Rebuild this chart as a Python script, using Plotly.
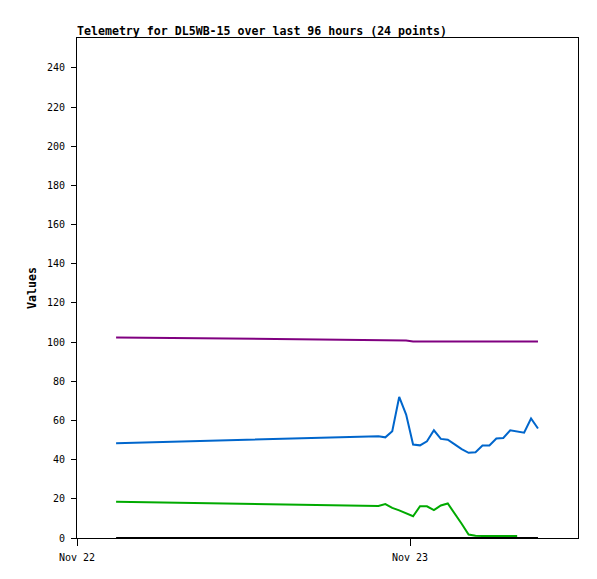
import plotly.graph_objects as go

# Timestamps of the samples
times = [
    "2023-11-22 02:49", "2023-11-22 21:43", "2023-11-22 22:13", "2023-11-22 22:43",
    "2023-11-22 23:13", "2023-11-22 23:43", "2023-11-23 00:13", "2023-11-23 00:43",
    "2023-11-23 01:13", "2023-11-23 01:43", "2023-11-23 02:13", "2023-11-23 02:43",
    "2023-11-23 03:13", "2023-11-23 03:43", "2023-11-23 04:13", "2023-11-23 04:43",
    "2023-11-23 05:13", "2023-11-23 05:43", "2023-11-23 06:13", "2023-11-23 06:43",
    "2023-11-23 07:13", "2023-11-23 07:43", "2023-11-23 08:13", "2023-11-23 08:43",
    "2023-11-23 09:13",
]

purple_vals = [102.4, 101.2, 101.2, 101.1, 101.1, 100.9, 100.3, 100.3, 100.3, 100.3,
               100.3, 100.3, 100.3, 100.3, 100.3, 100.3, 100.3, 100.3, 100.3, 100.3,
               100.3, 100.3, 100.3, 100.3, 100.3]
blue_vals = [48.4, 51.9, 51.4, 54.5, 72.0, 63.0, 47.7, 47.3, 49.4, 55.0,
             50.6, 50.2, 47.8, 45.4, 43.5, 43.8, 47.2, 47.2, 50.8, 51.1,
             55.0, 54.5, 53.8, 61.0, 55.9]
green_vals = [18.5, 16.3, 17.3, 15.4, 14.1, 12.7, 11.1, 16.2, 16.2, 14.2,
              16.6, 17.6, 12.6, 7.3, 1.8, 1.2, 1.0, 1.0, 1.0, 1.0,
              1.0, 1.0, None, None, None]
black_vals = [0.0] * 25

title_text = "Telemetry for DL5WB-15 over last 96 hours (24 points)"
y_title = "Values"
y_ticks = list(range(0, 241, 20))

W, H = 597, 579
L, R, T, B = 77, 19, 38, 41

fig = go.Figure()
for vals, col in [(purple_vals, "#800080"), (blue_vals, "#0066CC"),
                  (green_vals, "#00AA00"), (black_vals, "#000000")]:
    fig.add_trace(go.Scatter(x=times, y=vals, mode="lines",
                             line=dict(color=col, width=2),
                             connectgaps=False, showlegend=False,
                             hoverinfo="skip"))

fig.update_layout(
    width=W, height=H,
    margin=dict(l=L, r=R, t=T, b=B, pad=0),
    paper_bgcolor="white", plot_bgcolor="white",
    font=dict(family="DejaVu Sans Mono", size=10, color="#000000"),
    title=dict(text="<b>" + title_text + "</b>",
               font=dict(family="DejaVu Sans Mono", size=11.6, color="#000000"),
               xref="container", x=L / W, xanchor="left",
               yref="container", y=1 - 31 / H, yanchor="middle"),
    xaxis=dict(type="date", range=["2023-11-22 00:00", "2023-11-23 12:06"],
               tickvals=["2023-11-22", "2023-11-23"], ticktext=["Nov 22", "Nov 23"],
               ticks="outside", ticklen=7, tickcolor="#000000", tickwidth=1,
               showline=True, linecolor="#000000", linewidth=1, mirror=True,
               showgrid=False, zeroline=False, ticklabelstandoff=3),
    yaxis=dict(range=[0, 255.3], tickvals=y_ticks,
               ticks="outside", ticklen=5, tickcolor="#000000", tickwidth=1,
               showline=True, linecolor="#000000", linewidth=1, mirror=True,
               showgrid=False, zeroline=False, ticklabelstandoff=4),
    annotations=[dict(text="<b>" + y_title + "</b>", textangle=-90,
                      xref="paper", yref="paper",
                      x=(32 - L) / (W - L - R), y=0.5,
                      xanchor="center", yanchor="middle", showarrow=False,
                      font=dict(family="DejaVu Sans Mono", size=11.6, color="#000000"))],
)

fig.write_html("out.html", config={"displayModeBar": False},
               post_script="document.body.style.margin='0';")
